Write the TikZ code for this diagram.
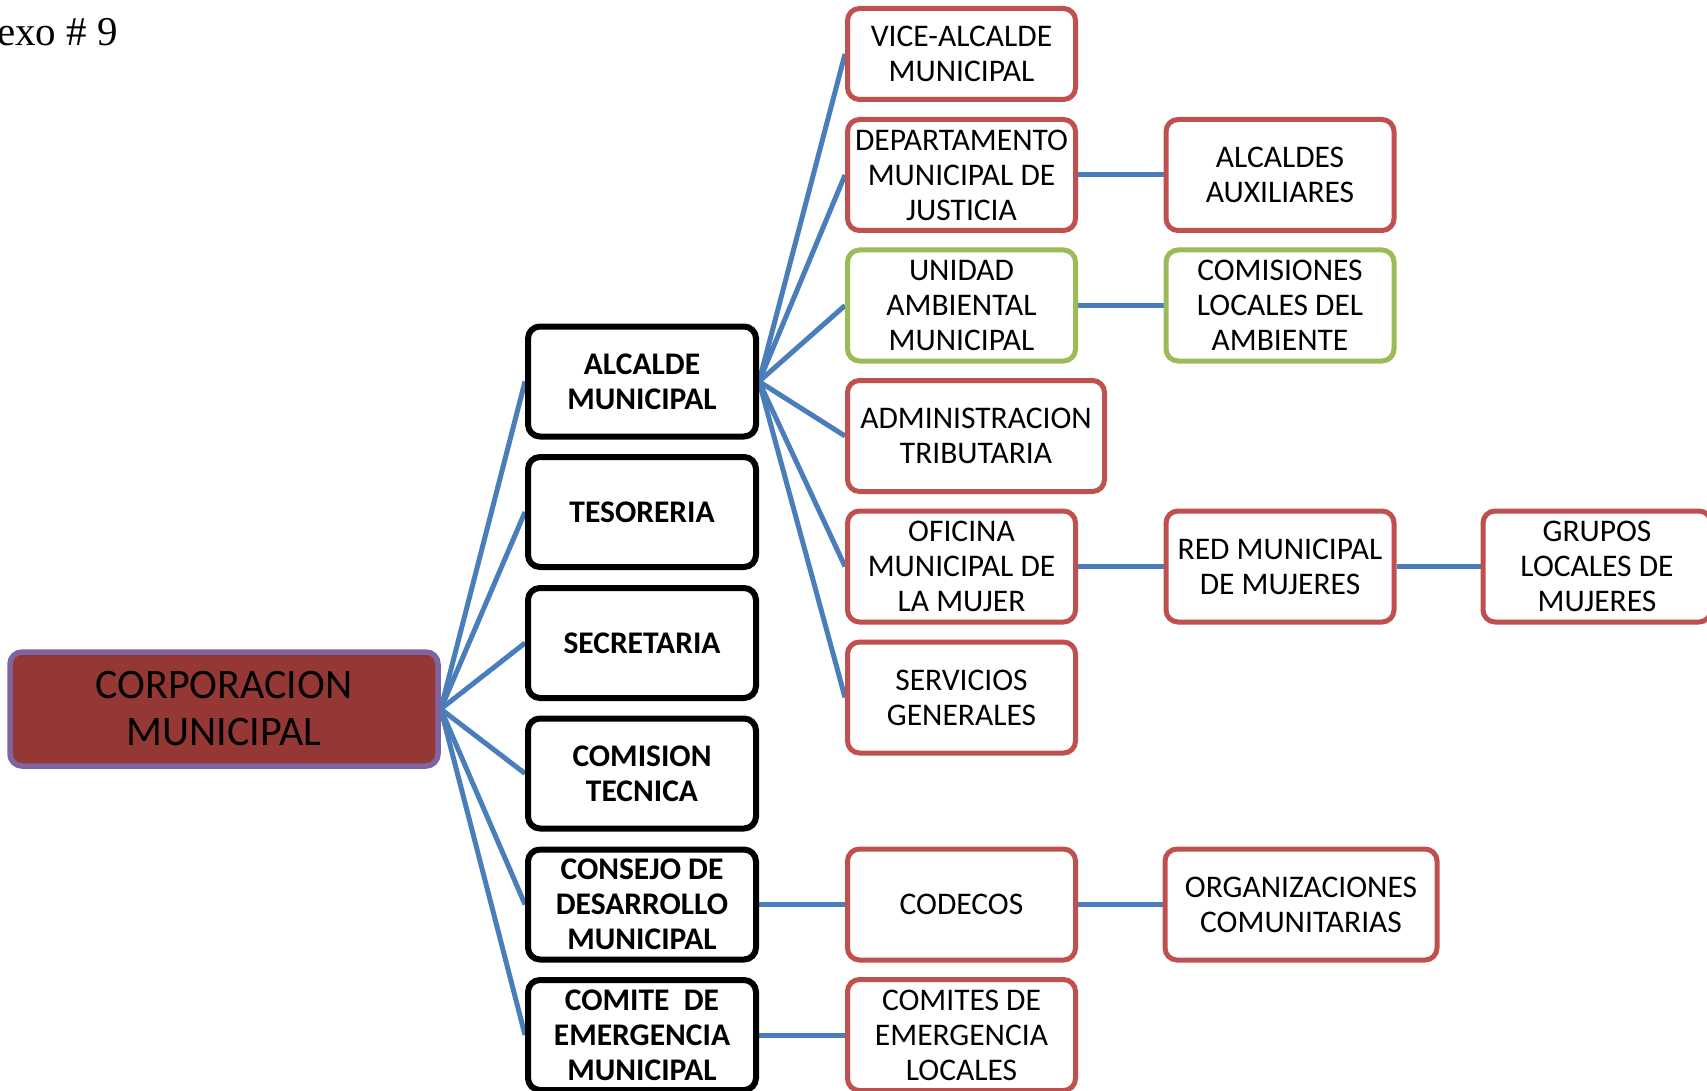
\documentclass[tikz,border=0pt]{standalone}
\usepackage{fontspec}
\setmainfont{Carlito}
\newfontfamily\serifx{Liberation Serif}
\usetikzlibrary{backgrounds}
\definecolor{boxred}{HTML}{C0504D}
\definecolor{boxgreen}{HTML}{9BBB59}
\definecolor{linkblue}{HTML}{4A7EBB}
\definecolor{corpfill}{HTML}{953735}
\definecolor{corpdraw}{HTML}{8064A2}
\begin{document}
\begin{tikzpicture}[x=1pt,y=-1pt,
  box/.style={rectangle, rounded corners=12pt, align=center, inner sep=0pt, fill=white, font=\fontsize{31.5}{35}\selectfont},
  blk/.style={box, draw=black, line width=6pt, minimum width=228pt, minimum height=110pt, font=\fontsize{31.5}{35}\selectfont\bfseries},
  rbox/.style={box, draw=boxred, line width=5pt, minimum width=228pt, minimum height=111pt},
  gbox/.style={rbox, draw=boxgreen},
  corp/.style={rectangle, rounded corners=12pt, align=center, inner sep=0pt, fill=corpfill, draw=corpdraw, line width=5.5pt, minimum width=428pt, minimum height=114pt, font=\fontsize{42}{47}\selectfont},
  link/.style={draw=linkblue, line width=5pt}]
\useasboundingbox (0,0) rectangle (1707,1091);
\node[anchor=base west, font=\serifx\fontsize{41}{43}\selectfont, inner sep=0pt] (anexo) at (-3,46) {exo \# 9};
\node[corp] (corp) at (224,709) {CORPORACION\\MUNICIPAL};
% column 2
\node[blk] (alc) at (642,381.5) {ALCALDE\\MUNICIPAL};
\node[blk] (tes) at (642,512) {TESORERIA};
\node[blk] (sec) at (642,643) {SECRETARIA};
\node[blk] (com) at (642,773.5) {COMISION\\TECNICA};
\node[blk] (cons) at (642,904.5) {CONSEJO DE\\DESARROLLO\\MUNICIPAL};
\node[blk] (cem) at (642,1035) {COMITE\ \ DE\\EMERGENCIA\\MUNICIPAL};
% column 3
\node[rbox, minimum height=91pt] (vice) at (961.5,54) {VICE-ALCALDE\\MUNICIPAL};
\node[rbox] (dept) at (961.5,175) {DEPARTAMENTO\\MUNICIPAL DE\\JUSTICIA};
\node[gbox] (uam) at (961.5,305.5) {UNIDAD\\AMBIENTAL\\MUNICIPAL};
\node[rbox, minimum width=257pt] (adm) at (976,436) {ADMINISTRACION\\TRIBUTARIA};
\node[rbox] (ofi) at (961.5,566.5) {OFICINA\\MUNICIPAL DE\\LA MUJER};
\node[rbox] (serv) at (961.5,697.5) {SERVICIOS\\GENERALES};
\node[rbox] (codecos) at (961.5,904.5) {CODECOS};
\node[rbox] (cel) at (961.5,1035) {COMITES DE\\EMERGENCIA\\LOCALES};
% column 4
\node[rbox] (aux) at (1280,175) {ALCALDES\\AUXILIARES};
\node[gbox] (cla) at (1280,305.5) {COMISIONES\\LOCALES DEL\\AMBIENTE};
\node[rbox] (red) at (1280,566.5) {RED MUNICIPAL\\DE MUJERES};
\node[rbox, minimum width=272pt] (org) at (1301,904.5) {ORGANIZACIONES\\COMUNITARIAS};
% column 5
\node[rbox] (grp) at (1597,566.5) {GRUPOS\\LOCALES DE\\MUJERES};
\begin{scope}[on background layer]
\fill[white] (0,0) rectangle (1707,1091);
\foreach \n in {alc,tes,sec,com,cons,cem} \draw[link] (corp.east) -- (\n.west);
\foreach \n in {vice,dept,uam,adm,ofi,serv} \draw[link] (alc.east) -- (\n.west);
\draw[link] (dept.east) -- (aux.west);
\draw[link] (uam.east) -- (cla.west);
\draw[link] (ofi.east) -- (red.west);
\draw[link] (red.east) -- (grp.west);
\draw[link] (cons.east) -- (codecos.west);
\draw[link] (codecos.east) -- (org.west);
\draw[link] (cem.east) -- (cel.west);
\end{scope}
\end{tikzpicture}
\end{document}
